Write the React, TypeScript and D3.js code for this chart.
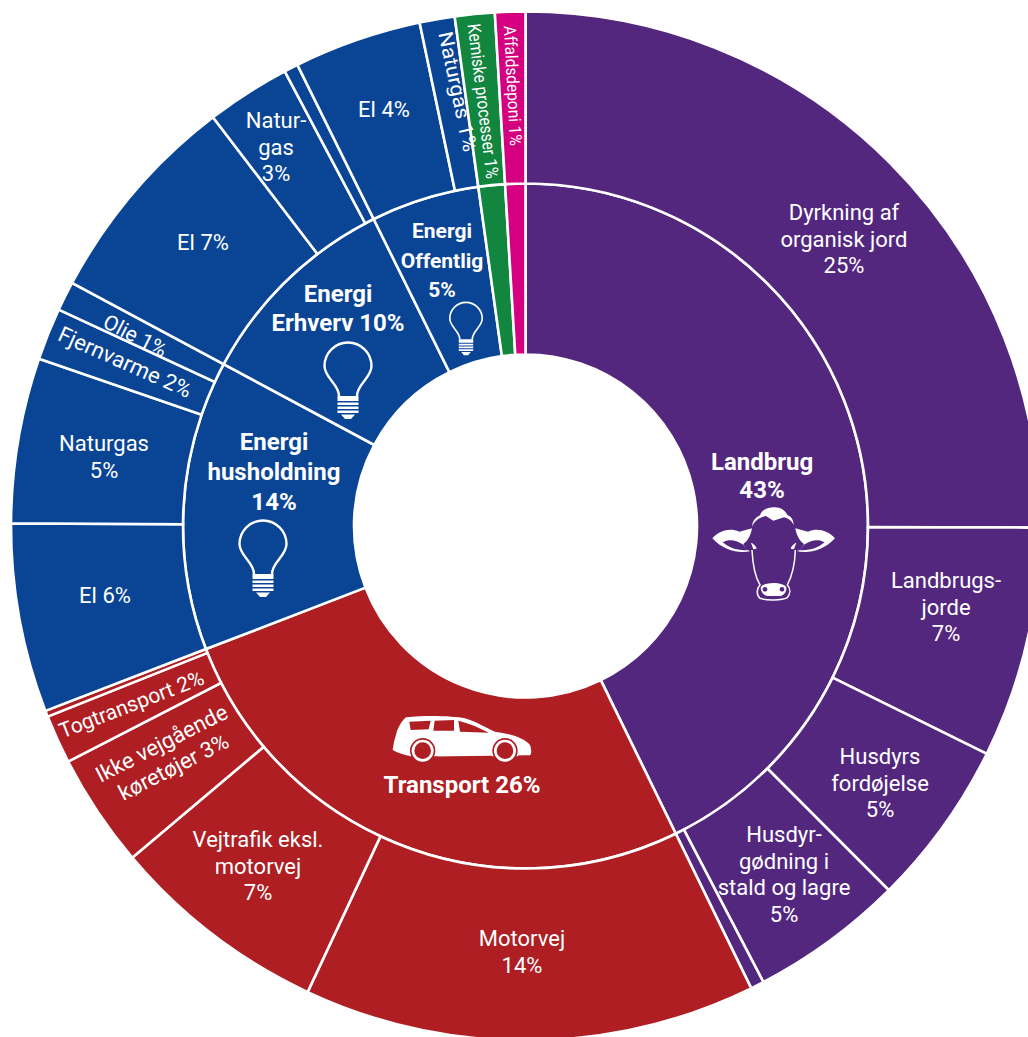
import React from "react";
import * as d3 from "d3";

// ---- data ----
const innerCategories = ["Landbrug 43%", "Transport 26%", "Energi husholdning 14%", "Energi Erhverv 10%", "Energi Offentlig 5%", "Kemiske processer", "Affaldsdeponi"];
const innerValues = [42.77, 26.38, 13.68, 9.86, 5.11, 1.25, 0.95];
const innerColors = ["#54277f", "#ae1e22", "#0a4595", "#0a4595", "#0a4595", "#12853f", "#d5007f"];

const outerCategories = [
  "Dyrkning af organisk jord 25%", "Landbrugsjorde 7%", "Husdyrs fordøjelse 5%", "Husdyrgødning i stald og lagre 5%", "Landbrug, øvrigt",
  "Motorvej 14%", "Vejtrafik eksl. motorvej 7%", "Ikke vejgående køretøjer 3%", "Togtransport 2%", "Transport, øvrigt",
  "El 6%", "Naturgas 5%", "Fjernvarme 2%", "Olie 1%",
  "El 7%", "Naturgas 3%", "Erhverv, øvrigt",
  "El 4%", "Naturgas 1%", "Kemiske processer 1%", "Affaldsdeponi 1%",
];
const outerValues = [25.05, 7.25, 5.22, 4.83, 0.42, 14.19, 6.89, 3.58, 1.53, 0.19, 5.93, 5.19, 1.64, 0.92, 6.78, 2.64, 0.44, 4.01, 1.1, 1.25, 0.95];
const outerColors = ["#54277f", "#54277f", "#54277f", "#54277f", "#54277f", "#ae1e22", "#ae1e22", "#ae1e22", "#ae1e22", "#ae1e22", "#0a4595", "#0a4595", "#0a4595", "#0a4595", "#0a4595", "#0a4595", "#0a4595", "#0a4595", "#0a4595", "#12853f", "#d5007f"];

// ---- label layout (separate from the data) ----
type Label = { lines: string[]; x: number; y: number; rot?: number; size?: number; len?: number; step?: number };
const outerLabels: Label[] = [
  { lines: ["Dyrkning af", "organisk jord", "25%"], x: 844, y: 220 },
  { lines: ["Landbrugs-", "jorde", "7%"], x: 946, y: 588 },
  { lines: ["Husdyrs", "fordøjelse", "5%"], x: 880, y: 764 },
  { lines: ["Husdyr-", "gødning i", "stald og lagre", "5%"], x: 784, y: 842 },
  { lines: ["Motorvej", "14%"], x: 522, y: 946 },
  { lines: ["Vejtrafik eksl.", "motorvej", "7%"], x: 258, y: 847 },
  { lines: ["Ikke vejgående", "køretøjer 3%"], x: 165, y: 750, rot: -27 },
  { lines: ["Togtransport 2%"], x: 134, y: 711, rot: -21, size: 21 },
  { lines: ["El 6%"], x: 105, y: 603 },
  { lines: ["Naturgas", "5%"], x: 104, y: 451 },
  { lines: ["Fjernvarme 2%"], x: 122, y: 369, rot: 24, size: 22 },
  { lines: ["Olie 1%"], x: 132, y: 342, rot: 27, size: 21 },
  { lines: ["El 7%"], x: 203, y: 250 },
  { lines: ["Natur-", "gas", "3%"], x: 276, y: 128 },
  { lines: ["El 4%"], x: 384, y: 117 },
  { lines: ["Naturgas 1%"], x: 451, y: 93, rot: 78, size: 20, len: 122 },
  { lines: ["Kemiske processer 1%"], x: 477, y: 102, rot: 83, size: 18, len: 156 },
  { lines: ["Affaldsdeponi 1%"], x: 507, y: 86, rot: 87, size: 17, len: 120 },
];
const innerLabels: Label[] = [
  { lines: ["Landbrug", "43%"], x: 762, y: 470, step: 28 },
  { lines: ["Transport 26%"], x: 462, y: 793 },
  { lines: ["Energi", "husholdning", "14%"], x: 274, y: 450, step: 30 },
  { lines: ["Energi", "Erhverv 10%"], x: 338, y: 302 },
  { lines: ["Energi", "Offentlig", "5%"], x: 442, y: 238, size: 21, step: 29.5 },
];

const CX = 525.5, CY = 526;
const R0 = 171.5, R1 = 342.5, R2 = 514.5;
const FONT = "Roboto, sans-serif";

const pie = d3.pie<number>().sort(null).value((d) => d);
const arcInner = d3.arc<d3.PieArcDatum<number>>().innerRadius(R0).outerRadius(R1);
const arcOuter = d3.arc<d3.PieArcDatum<number>>().innerRadius(R1).outerRadius(R2);

function Text({ l, bold }: { l: Label; bold?: boolean }) {
  const size = l.size ?? (bold ? 24 : 22);
  const step = l.step ?? (bold ? 29 : 26.5);
  return (
    <g transform={`translate(${l.x},${l.y}) rotate(${l.rot ?? 0})`} fontFamily={FONT} fontSize={size} fontWeight={bold ? 700 : 400} fill="#fff" textAnchor="middle">
      {l.lines.map((t, i) => (
        <text key={i} y={i * step} {...(l.len ? { textLength: l.len, lengthAdjust: "spacingAndGlyphs" } : {})}>{t}</text>
      ))}
    </g>
  );
}

// Bulb drawn around (0,0) = centre of the top of the glass
function Bulb({ x, y, s }: { x: number; y: number; s: number }) {
  return (
    <g transform={`translate(${x},${y}) scale(${s})`}>
      <path d="M-9,54 C-9,42 -23.5,36 -23.5,24 A23.5,23.5 0 1 1 23.5,24 C23.5,36 9,42 9,54" fill="none" stroke="#fff" strokeWidth={2.4} />
      <path d="M-10.5,54 H10.5 V59 H-10.5Z M-10.5,60.5 H10.5 V63 H-10.5Z M-10.5,64.5 H10.5 V67 H-10.5Z M-10.5,68.5 H10.5 V71 H-10.5Z M-7,72.5 H7 L3,77 H-3Z" fill="#fff" />
    </g>
  );
}

function Cow() {
  const ear = (
    <>
      <path d="M97,325 C120,300 150,293 178,305 L216,295 C213,315 202,335 190,342 C195,355 200,362 212,363 C180,372 130,362 97,325Z" fill="#fff" />
      <path d="M128,337 C148,325 172,332 190,344 C195,352 199,358 204,360 C175,363 150,355 128,337Z" fill="#54277f" />
      <path d="M213,338 C219,340 228,348 230,356 L220,358 Z" fill="#fff" />
    </>
  );
  return (
    <g transform="translate(680,430) scale(0.3333)">
      {ear}
      <g transform="translate(562,0) scale(-1,1)">{ear}</g>
      <path d="M216,290 C218,270 228,262 240,256 C245,240 265,230 285,232 C305,232 318,245 322,255 C335,260 340,270 341,285 C335,272 325,265 312,262 L280,272 L258,258 C240,262 225,270 216,290Z" fill="#fff" />
      <path d="M216,360 C218,400 225,440 240,465 C230,475 228,495 240,505 C260,512 305,512 322,503 C332,490 332,475 322,465 C335,440 345,400 346,360" fill="none" stroke="#fff" strokeWidth={4.5} />
      <path d="M243,470 C255,455 305,455 318,470 C322,480 315,495 300,498 L262,498 C248,495 240,480 243,470Z" fill="#fff" />
      <circle cx={255} cy={478} r={7} fill="#54277f" />
      <circle cx={306} cy={478} r={7} fill="#54277f" />
    </g>
  );
}

function Car() {
  const wheels = [158, 405];
  return (
    <g transform="translate(370,700) scale(0.3333)">
      <path d="M68,150 L72,125 L82,90 C90,72 100,58 108,52 C170,45 250,48 285,55 C320,65 350,85 375,95 C420,100 465,115 480,135 C485,150 485,160 480,166 L130,170 C105,165 85,160 68,150Z" fill="#fff" />
      <path d="M118,65 L182,62 L176,88 L122,90Z M194,62 L252,60 L252,92 L190,92Z M265,62 C300,70 330,85 357,98 L270,95Z" fill="#ae1e22" />
      {wheels.map((x) => (
        <g key={x}>
          <circle cx={x} cy={152} r={42} fill="#fff" />
          <path d={`M${x - 44},169 h88 v30 h-88Z`} fill="#ae1e22" />
          <circle cx={x} cy={152} r={38} fill="#ae1e22" />
          <circle cx={x} cy={152} r={33} fill="#fff" />
          <circle cx={x} cy={152} r={25} fill="#ae1e22" />
        </g>
      ))}
    </g>
  );
}

export default function App() {
  const inner = pie(innerValues);
  const outer = pie(outerValues);
  return (
    <svg width={1028} height={1037} style={{ position: "absolute", left: 0, top: 0, background: "#fff" }}>
      <g transform={`translate(${CX},${CY})`} stroke="#fff" strokeWidth={2.6} strokeLinejoin="miter">
        {inner.map((d, i) => (
          <path key={innerCategories[i]} d={arcInner(d) ?? ""} fill={innerColors[i]} />
        ))}
        {outer.map((d, i) => (
          <path key={outerCategories[i]} d={arcOuter(d) ?? ""} fill={outerColors[i]} />
        ))}
      </g>
      {outerLabels.map((l, i) => <Text key={i} l={l} />)}
      {innerLabels.map((l, i) => <Text key={i} l={l} bold />)}
      <Cow />
      <Car />
      <Bulb x={263} y={520} s={1} />
      <Bulb x={348} y={342} s={1} />
      <Bulb x={466} y={302} s={0.69} />
    </svg>
  );
}
